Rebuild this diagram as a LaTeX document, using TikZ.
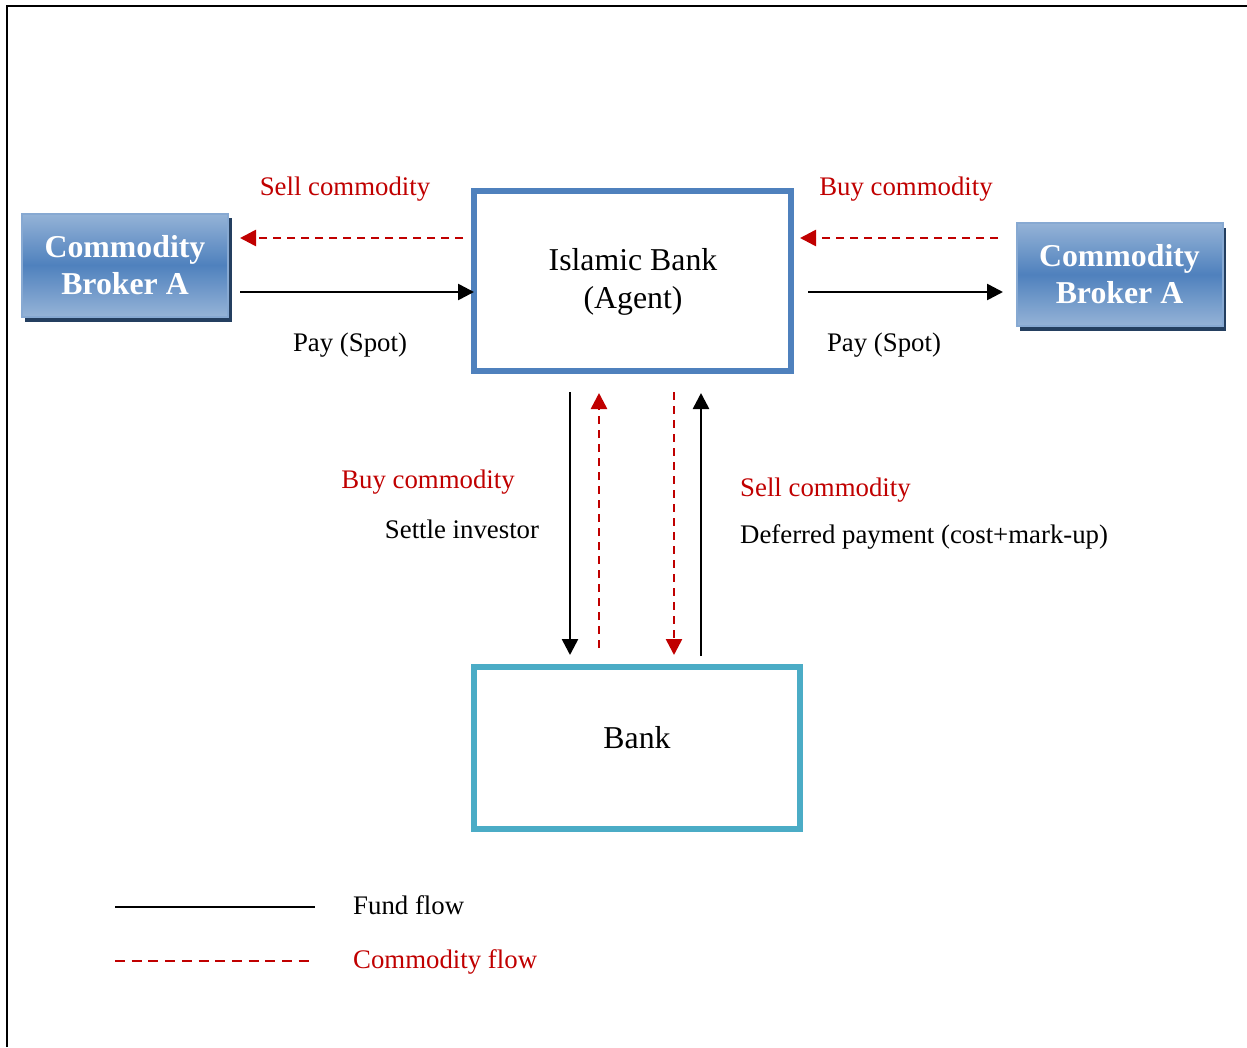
\documentclass[tikz,border=0pt]{standalone}
\usepackage{fontspec}
\setmainfont{Liberation Serif}
\usetikzlibrary{arrows.meta}
\definecolor{bred}{HTML}{C00000}
\definecolor{bblue}{HTML}{4F81BD}
\definecolor{lblue}{HTML}{95B3D7}
\definecolor{cyanb}{HTML}{4BACC6}
\definecolor{shadowb}{HTML}{243F60}
\tikzset{
  fund/.style={line width=2.6pt, -{Triangle[length=16pt,width=16pt]}},
  comm/.style={line width=2.6pt, bred, dash pattern=on 8pt off 6pt, -{Triangle[length=16pt,width=16pt]}},
  lbl/.style={font=\fontsize{26.8}{30}\selectfont, inner sep=0pt},
  rlbl/.style={lbl, text=bred},
  broker/.style={draw=lblue!80!bblue, line width=2pt, top color=lblue, bottom color=lblue, middle color=bblue,
    minimum width=206pt, minimum height=103pt, text=white, align=center,
    font=\fontsize{31.8}{37}\selectfont\bfseries, inner sep=0pt},
  bigbox/.style={draw, line width=5.5pt, fill=white},
  bigtxt/.style={font=\fontsize{31.8}{38}\selectfont, align=center, inner sep=0pt},
}
\begin{document}
\begin{tikzpicture}[x=1pt,y=-1pt]
\useasboundingbox (0,0) rectangle (1247,1047);
% frame
\draw[line width=2.5pt] (7,1047) -- (7,6) -- (1247,6);
% brokers
\fill[shadowb] (25,218) rectangle (232,322);
\node[broker] (bl) at (125,265) {Commodity\\Broker A};
\fill[shadowb] (1020,228) rectangle (1226,331);
\node[broker] (br) at (1119.5,274.5) {Commodity\\Broker A};
% boxes
\node[bigbox, draw=bblue, minimum width=317pt, minimum height=180pt] (ib) at (632.5,281) {};
\node[bigtxt] (ibt) at (633,282) {Islamic Bank\\(Agent)};
\node[bigbox, draw=cyanb, minimum width=326pt, minimum height=162pt] (bk) at (637,748) {};
\node[bigtxt] (bkt) at (637,738) {Bank};
% coordinates
\coordinate (a1) at (463,238); \coordinate (a2) at (240,238);
\coordinate (b1) at (240,292); \coordinate (b2) at (474,292);
\coordinate (c1) at (998,238); \coordinate (c2) at (800,238);
\coordinate (d1) at (808,292); \coordinate (d2) at (1003,292);
\coordinate (v1a) at (570,392); \coordinate (v1b) at (570,655);
\coordinate (v2a) at (599,648); \coordinate (v2b) at (599,393);
\coordinate (v3a) at (674,392); \coordinate (v3b) at (674,655);
\coordinate (v4a) at (701,656); \coordinate (v4b) at (701,393);
\draw[comm] (a1) -- (a2);
\draw[fund] (b1) -- (b2);
\draw[comm] (c1) -- (c2);
\draw[fund] (d1) -- (d2);
\draw[fund] (v1a) -- (v1b);
\draw[comm] (v2a) -- (v2b);
\draw[comm] (v3a) -- (v3b);
\draw[fund] (v4a) -- (v4b);
% labels
\node[rlbl] (l1) at (345,189.5) {Sell commodity};
\node[rlbl] (l2) at (906,189.5) {Buy commodity};
\node[lbl] (l3) at (350,345.5) {Pay (Spot)};
\node[lbl] (l4) at (884,345.5) {Pay (Spot)};
\node[rlbl] (l5) at (428,482.5) {Buy commodity};
\node[lbl] (l6) at (462,529) {Settle investor};
\node[rlbl, anchor=west] (l7) at (740,490.5) {Sell commodity};
\node[lbl, anchor=west] (l8) at (740,536.5) {Deferred payment (cost+mark-up)};
% legend
\coordinate (g1) at (115,907); \coordinate (g2) at (315,907);
\coordinate (h1) at (115,961); \coordinate (h2) at (315,961);
\draw[line width=2.5pt] (g1) -- (g2);
\draw[line width=2.5pt, bred, dash pattern=on 10pt off 6.7pt] (h1) -- (h2);
\node[lbl, anchor=west] (f1) at (353,905) {Fund flow};
\node[rlbl, anchor=west] (f2) at (353,962) {Commodity flow};
\end{tikzpicture}
\end{document}
